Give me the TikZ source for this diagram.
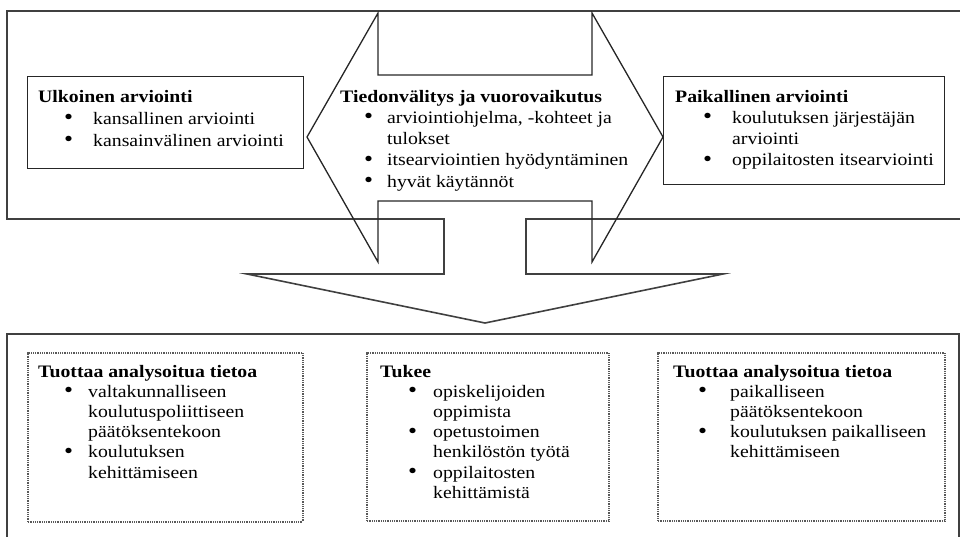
\documentclass[tikz,border=0pt]{standalone}
\usepackage{fontspec}
\setmainfont{Liberation Serif}[FakeStretch=1.13]
\newlength\bcol
\newlength\boff
\newcommand\bul{\makebox[\bcol][l]{\hspace*{\boff}\raisebox{-0.6pt}{\scalebox{1.3}{\textbullet}}}}
\newcommand\nob{\makebox[\bcol]{}}
\newcommand\hd[1]{\multicolumn{2}{@{}l@{}}{\textbf{#1}}}
\begin{document}
\begin{tikzpicture}[x=1pt,y=-1pt,
  outline/.style={draw=black!75,line width=1.6pt,line join=miter},
  plainbox/.style={draw=black!85,line width=1.3pt,rectangle,inner sep=0pt,anchor=north west},
  dotbox/.style={draw=black!65,line width=1.5pt,dash pattern=on 1pt off 0.8pt,rectangle,inner sep=0pt,anchor=north west},
  txt/.style={inner sep=0pt,anchor=base west,font=\fontsize{17.5}{#1}\selectfont},
  txt/.default=21.5]
\useasboundingbox (0,0) rectangle (960,536);

% upper frame with the downward arrow leaving it
\draw[outline] (975,11) -- (7,11) -- (7,219) -- (444,219) -- (444,274) -- (247,274)
  -- (485,323) -- (723,274) -- (526,274) -- (526,219) -- (975,219);

% lower frame
\draw[outline] (7,545) -- (7,334) -- (959,334) -- (959,545);

% two-way arrow in the middle of the upper frame
\draw[draw=black!85,line width=1.3pt,line join=miter]
  (307,137) -- (378,13) -- (378,75) -- (592,75) -- (592,13) -- (663,137)
  -- (592,262) -- (592,201) -- (378,201) -- (378,262) -- cycle;

% upper boxes
\node[plainbox,minimum width=276pt,minimum height=92pt] (ulk) at (27,76) {};
\node[plainbox,minimum width=281pt,minimum height=108pt] (paik) at (663,76) {};

% lower boxes
\node[dotbox,minimum width=275pt,minimum height=169pt] (tv) at (27,352) {};
\node[dotbox,minimum width=242pt,minimum height=168pt] (tuk) at (366,352) {};
\node[dotbox,minimum width=287pt,minimum height=168pt] (tp) at (657,352) {};

% texts
\node[txt=22] (ulkt) at (38,102) {\setlength\bcol{55pt}\setlength\boff{26pt}%
  \begin{tabular}[t]{@{}l@{}l@{}}
  \hd{Ulkoinen arviointi}\\
  \bul & kansallinen arviointi\\
  \bul & kansainvälinen arviointi
  \end{tabular}};

\node[txt=21.3] (tiet) at (340,102) {\setlength\bcol{47pt}\setlength\boff{24pt}%
  \begin{tabular}[t]{@{}l@{}l@{}}
  \hd{Tiedonvälitys ja vuorovaikutus}\\
  \bul & arviointiohjelma, -kohteet ja\\
  \nob & tulokset\\
  \bul & itsearviointien hyödyntäminen\\
  \bul & hyvät käytännöt
  \end{tabular}};

\node[txt=21.3] (paikt) at (675,102) {\setlength\bcol{57pt}\setlength\boff{28pt}%
  \begin{tabular}[t]{@{}l@{}l@{}}
  \hd{Paikallinen arviointi}\\
  \bul & koulutuksen järjestäjän\\
  \nob & arviointi\\
  \bul & oppilaitosten itsearviointi
  \end{tabular}};

\node[txt=20.2] (tvt) at (38,377) {\setlength\bcol{50pt}\setlength\boff{26pt}%
  \begin{tabular}[t]{@{}l@{}l@{}}
  \hd{Tuottaa analysoitua tietoa}\\
  \bul & valtakunnalliseen\\
  \nob & koulutuspoliittiseen\\
  \nob & päätöksentekoon\\
  \bul & koulutuksen\\
  \nob & kehittämiseen
  \end{tabular}};

\node[txt=20.2] (tukt) at (380,377) {\setlength\bcol{53pt}\setlength\boff{28pt}%
  \begin{tabular}[t]{@{}l@{}l@{}}
  \hd{Tukee}\\
  \bul & opiskelijoiden\\
  \nob & oppimista\\
  \bul & opetustoimen\\
  \nob & henkilöstön työtä\\
  \bul & oppilaitosten\\
  \nob & kehittämistä
  \end{tabular}};

\node[txt=20.2] (tpt) at (673,377) {\setlength\bcol{57pt}\setlength\boff{25pt}%
  \begin{tabular}[t]{@{}l@{}l@{}}
  \hd{Tuottaa analysoitua tietoa}\\
  \bul & paikalliseen\\
  \nob & päätöksentekoon\\
  \bul & koulutuksen paikalliseen\\
  \nob & kehittämiseen
  \end{tabular}};
\end{tikzpicture}
\end{document}
